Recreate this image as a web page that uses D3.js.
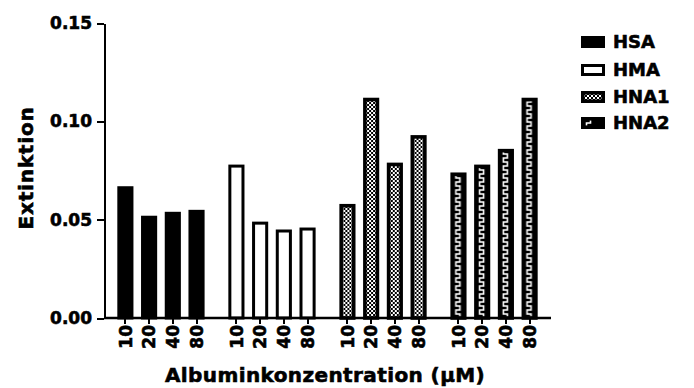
<!doctype html>
<html>
<head>
  <script src="https://cdnjs.cloudflare.com/ajax/libs/d3/7.8.5/d3.min.js"></script>
  <style>
    body { margin: 0; background: #fff; }
    text { font-family: "DejaVu Sans", sans-serif; font-weight: bold; fill: #000; stroke: #000; stroke-width: 0.6px; }
    .axis path, .axis line { stroke: #000; stroke-width: 2; shape-rendering: crispEdges; }
    .axis text { font-size: 17px; }
  </style>
</head>
<body>
  <svg id="chart" width="694" height="388"></svg>
  <script>
    var groups = ["HSA", "HMA", "HNA1", "HNA2"];
    var concentrations = ["10", "20", "40", "80"];
    var hsa  = [0.067, 0.052, 0.054, 0.055];
    var hma  = [0.078, 0.049, 0.045, 0.046];
    var hna1 = [0.058, 0.112, 0.079, 0.093];
    var hna2 = [0.074, 0.078, 0.086, 0.112];
    var yTicks = [0, 0.05, 0.10, 0.15];

    var series = [hsa, hma, hna1, hna2];
    var fills = ["#000", "#fff", "url(#checker)", "url(#wave)"];
    var strokeW = [3, 3, 3.6, 3.6];

    var svg = d3.select("#chart");

    // patterns
    var defs = svg.append("defs");
    var checker = defs.append("pattern").attr("id", "checker")
      .attr("patternUnits", "userSpaceOnUse").attr("width", 4).attr("height", 4);
    checker.append("rect").attr("width", 4).attr("height", 4).attr("fill", "#fff");
    checker.append("rect").attr("width", 2).attr("height", 2).attr("fill", "#000");
    checker.append("rect").attr("x", 2).attr("y", 2).attr("width", 2).attr("height", 2).attr("fill", "#000");

    var wave = defs.append("pattern").attr("id", "wave")
      .attr("patternUnits", "userSpaceOnUse").attr("width", 20).attr("height", 8);
    wave.append("rect").attr("width", 20).attr("height", 8).attr("fill", "#000");
    wave.append("path").attr("d", "M5.5,0 V2 H9.5 V6 H5.5 V8").attr("fill", "none")
      .attr("stroke", "#fff").attr("stroke-width", 1.6);

    var y = d3.scaleLinear().domain([0, 0.15]).range([318, 23]);
    var x0 = d3.scaleBand().domain(groups).range([104, 551])
      .paddingInner(0.214).paddingOuter(0.12);
    var x1 = d3.scaleBand().domain(concentrations).range([0, x0.bandwidth()])
      .paddingInner(0.32).paddingOuter(0);

    groups.forEach(function(g, gi) {
      var sw = strokeW[gi];
      var gg = svg.append("g").attr("transform", "translate(" + x0(g) + ",0)");
      series[gi].forEach(function(v, ci) {
        var bar = gg.append("g").attr("transform", "translate(" + x1(concentrations[ci]) + ",0)");
        bar.append("rect")
          .attr("x", sw / 2)
          .attr("y", y(v) + sw / 2)
          .attr("width", x1.bandwidth() - sw)
          .attr("height", y(0) - y(v) - sw / 2)
          .attr("fill", fills[gi])
          .attr("stroke", "#000")
          .attr("stroke-width", sw);
      });
      // tick labels for this group
      var ax = gg.append("g").attr("class", "axis")
        .attr("transform", "translate(0," + y(0) + ")")
        .call(d3.axisBottom(x1).tickSize(6).tickPadding(3));
      ax.select(".domain").remove();
      ax.selectAll("text")
        .attr("transform", "rotate(-90)")
        .attr("text-anchor", "end")
        .attr("x", -7)
        .attr("y", 0)
        .attr("dy", "0.36em");
    });

    // x axis line
    svg.append("line")
      .attr("x1", 104).attr("x2", 551).attr("y1", y(0)).attr("y2", y(0))
      .attr("stroke", "#000").attr("stroke-width", 2.5);

    var yAxis = svg.append("g").attr("class", "axis")
      .attr("transform", "translate(104,0)")
      .call(d3.axisLeft(y).tickValues(yTicks).tickFormat(d3.format(".2f"))
        .tickSize(7).tickPadding(5).tickSizeOuter(0));
    yAxis.select(".domain").attr("stroke-width", 2.5);

    // axis titles
    svg.append("text")
      .attr("transform", "translate(33,168) rotate(-90)")
      .attr("text-anchor", "middle")
      .style("font-size", "20px")
      .style("letter-spacing", "0.8px")
      .text("Extinktion");
    svg.append("text")
      .attr("x", 325).attr("y", 382)
      .attr("text-anchor", "middle")
      .style("font-size", "20px")
      .style("letter-spacing", "0.4px")
      .text("Albuminkonzentration (µM)");

    // legend
    var legendY = [42, 70, 97, 123];
    groups.forEach(function(g, gi) {
      var sw = strokeW[gi];
      var lg = svg.append("g").attr("transform", "translate(581," + (legendY[gi] - 6) + ")");
      lg.append("rect")
        .attr("x", sw / 2).attr("y", sw / 2)
        .attr("width", 24 - sw).attr("height", 12 - sw)
        .attr("fill", fills[gi]).attr("stroke", "#000").attr("stroke-width", sw);
      lg.append("text")
        .attr("x", 32).attr("y", 6).attr("dy", "0.36em")
        .style("font-size", "18px")
        .text(g);
    });
  </script>
</body>
</html>
